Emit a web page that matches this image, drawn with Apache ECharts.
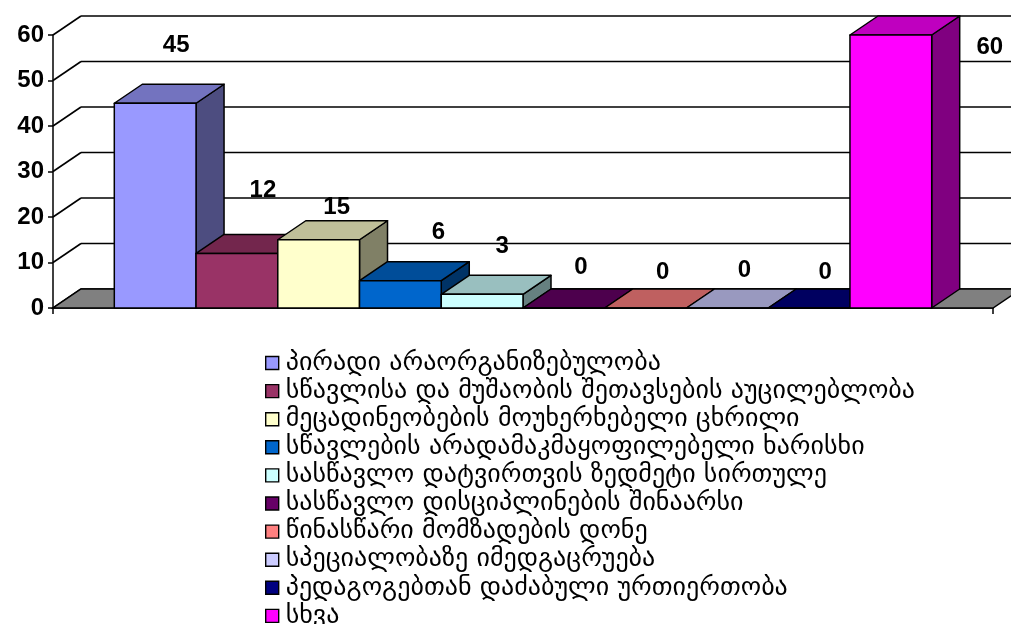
<!DOCTYPE html>
<html>
<head>
<meta charset="utf-8">
<script src="https://cdn.jsdelivr.net/npm/echarts@6/dist/echarts.min.js"></script>
<style>
  html, body { margin: 0; padding: 0; background: #fff; }
  #chart { width: 1011px; height: 624px; }
</style>
</head>
<body>
<div id="chart"></div>
<script>
// Survey answers: reasons, counts per reason
const categories = [
  'პირადი არაორგანიზებულობა',
  'სწავლისა და მუშაობის შეთავსების აუცილებლობა',
  'მეცადინეობების მოუხერხებელი ცხრილი',
  'სწავლების არადამაკმაყოფილებელი ხარისხი',
  'სასწავლო დატვირთვის ზედმეტი სირთულე',
  'სასწავლო დისციპლინების შინაარსი',
  'წინასწარი მომზადების დონე',
  'სპეციალობაზე იმედგაცრუება',
  'პედაგოგებთან დაძაბული ურთიერთობა',
  'სხვა'
];
const values = [45, 12, 15, 6, 3, 0, 0, 0, 0, 60];
const yTicks = [0, 10, 20, 30, 40, 50, 60];

// Styling
const barColors = ['#9999FF', '#993366', '#FFFFCC', '#0066CC', '#CCFFFF',
                   '#660066', '#FF8080', '#CCCCFF', '#000080', '#FF00FF'];
// value label nudges [dx, dy] from the centre of each box's top face
const labelNudge = [[7, -48], [12, -54], [4, -23], [24, -39], [6, -38],
                    [3, -31], [3, -26], [3, -28], [2, -26], [85, 22]];
const DEPTH_X = 28, DEPTH_Y = 19;      // oblique depth of the 3D box
const GAP_RATIO = 1.5;                  // gap width as fraction of one bar
const EDGE = '#000';
const NUM_FONT = '"Liberation Sans", Arial, sans-serif';

function shade(hex, k) {
  const n = parseInt(hex.slice(1), 16);
  const r = Math.round(((n >> 16) & 255) * k);
  const g = Math.round(((n >> 8) & 255) * k);
  const b = Math.round((n & 255) * k);
  return 'rgb(' + r + ',' + g + ',' + b + ')';
}

function bandInfo(api) {
  const base = api.coord([0, 0]);
  const band = api.size([1, 0])[0];
  const left = base[0] - band / 2;
  const barW = band / (categories.length + GAP_RATIO);
  return { base, band, left, barW };
}

// back wall, left wall and grid lines
const wallSeries = {
  type: 'custom',
  name: '__wall',
  silent: true,
  z: 1,
  data: yTicks.map(v => [0, v]),
  renderItem: function (params, api) {
    const info = bandInfo(api);
    const y = api.coord([0, api.value(1)])[1];
    const x0 = info.left;
    const style = { stroke: EDGE, lineWidth: 1.6 };
    return {
      type: 'group',
      children: [
        { type: 'line', shape: { x1: x0, y1: y, x2: x0 + DEPTH_X, y2: y - DEPTH_Y }, style },
        { type: 'line', shape: { x1: x0 + DEPTH_X, y1: y - DEPTH_Y, x2: x0 + info.band + DEPTH_X, y2: y - DEPTH_Y }, style }
      ]
    };
  }
};

// grey floor
const floorSeries = {
  type: 'custom',
  name: '__floor',
  silent: true,
  z: 2,
  data: [[0, 0]],
  renderItem: function (params, api) {
    const info = bandInfo(api);
    const y = info.base[1];
    const x0 = info.left, x1 = info.left + info.band;
    return {
      type: 'polygon',
      shape: { points: [[x0, y], [x1, y], [x1 + DEPTH_X, y - DEPTH_Y], [x0 + DEPTH_X, y - DEPTH_Y]] },
      style: { fill: '#808080', stroke: EDGE, lineWidth: 1.5 }
    };
  }
};

const barSeries = categories.map((name, i) => ({
  type: 'custom',
  name: name,
  z: 3 + i,
  itemStyle: { color: barColors[i], borderColor: EDGE, borderWidth: 1 },
  data: [[0, values[i]]],
  renderItem: function (params, api) {
    const info = bandInfo(api);
    const yb = info.base[1];
    const v = api.value(1);
    const yt = api.coord([0, v])[1];
    const x0 = info.left + (GAP_RATIO / 2) * info.barW + i * info.barW;
    const x1 = x0 + info.barW;
    const col = barColors[i];
    const st = { stroke: EDGE, lineWidth: 1.5, lineJoin: 'round' };
    const topCx = (x0 + x1) / 2 + DEPTH_X / 2;
    const topCy = yt - DEPTH_Y / 2;
    return {
      type: 'group',
      children: [
        { type: 'polygon',
          shape: { points: [[x1, yt], [x1 + DEPTH_X, yt - DEPTH_Y], [x1 + DEPTH_X, yb - DEPTH_Y], [x1, yb]] },
          style: Object.assign({ fill: shade(col, 0.5) }, st) },
        { type: 'polygon',
          shape: { points: [[x0, yt], [x1, yt], [x1 + DEPTH_X, yt - DEPTH_Y], [x0 + DEPTH_X, yt - DEPTH_Y]] },
          style: Object.assign({ fill: shade(col, 0.75) }, st) },
        { type: 'rect',
          shape: { x: x0, y: yt, width: x1 - x0, height: yb - yt },
          style: Object.assign({ fill: col }, st) },
        { type: 'text',
          z2: 100,
          style: {
            x: topCx + labelNudge[i][0],
            y: topCy + labelNudge[i][1],
            text: String(v),
            fill: '#000',
            font: 'bold 24px ' + NUM_FONT,
            align: 'center',
            verticalAlign: 'middle'
          } }
      ]
    };
  }
}));

const chart = echarts.init(document.getElementById('chart'), null, { renderer: 'canvas' });
chart.setOption({
  animation: false,
  backgroundColor: '#fff',
  grid: { left: 53, right: 18, top: 35, bottom: 316, containLabel: false },
  xAxis: {
    type: 'category',
    data: [''],
    boundaryGap: true,
    axisLine: { show: true, lineStyle: { color: EDGE, width: 1.5 } },
    axisTick: { show: true, length: 6, lineStyle: { color: EDGE, width: 1.5 } },
    axisLabel: { show: false },
    splitLine: { show: false }
  },
  yAxis: {
    type: 'value',
    min: 0,
    max: 60,
    interval: 10,
    axisLine: { show: true, lineStyle: { color: EDGE, width: 1.5 } },
    axisTick: { show: true, length: 5, lineStyle: { color: EDGE, width: 1.5 } },
    axisLabel: {
      color: '#000',
      fontSize: 24,
      fontWeight: 'bold',
      fontFamily: NUM_FONT,
      margin: 9
    },
    splitLine: { show: false }
  },
  legend: {
    data: categories,
    orient: 'vertical',
    left: 265,
    top: 350,
    height: 320,
    padding: 0,
    itemWidth: 13,
    itemHeight: 13,
    itemGap: 2.1,
    icon: 'rect',
    itemStyle: { borderColor: EDGE, borderWidth: 1.4 },
    textStyle: {
      color: '#000',
      fontSize: 26,
      lineHeight: 23,
      fontFamily: '"DejaVu Sans", sans-serif',
      padding: [0, 0, 0, 2]
    },
    selectedMode: false
  },
  series: [wallSeries, floorSeries].concat(barSeries)
});
</script>
</body>
</html>
